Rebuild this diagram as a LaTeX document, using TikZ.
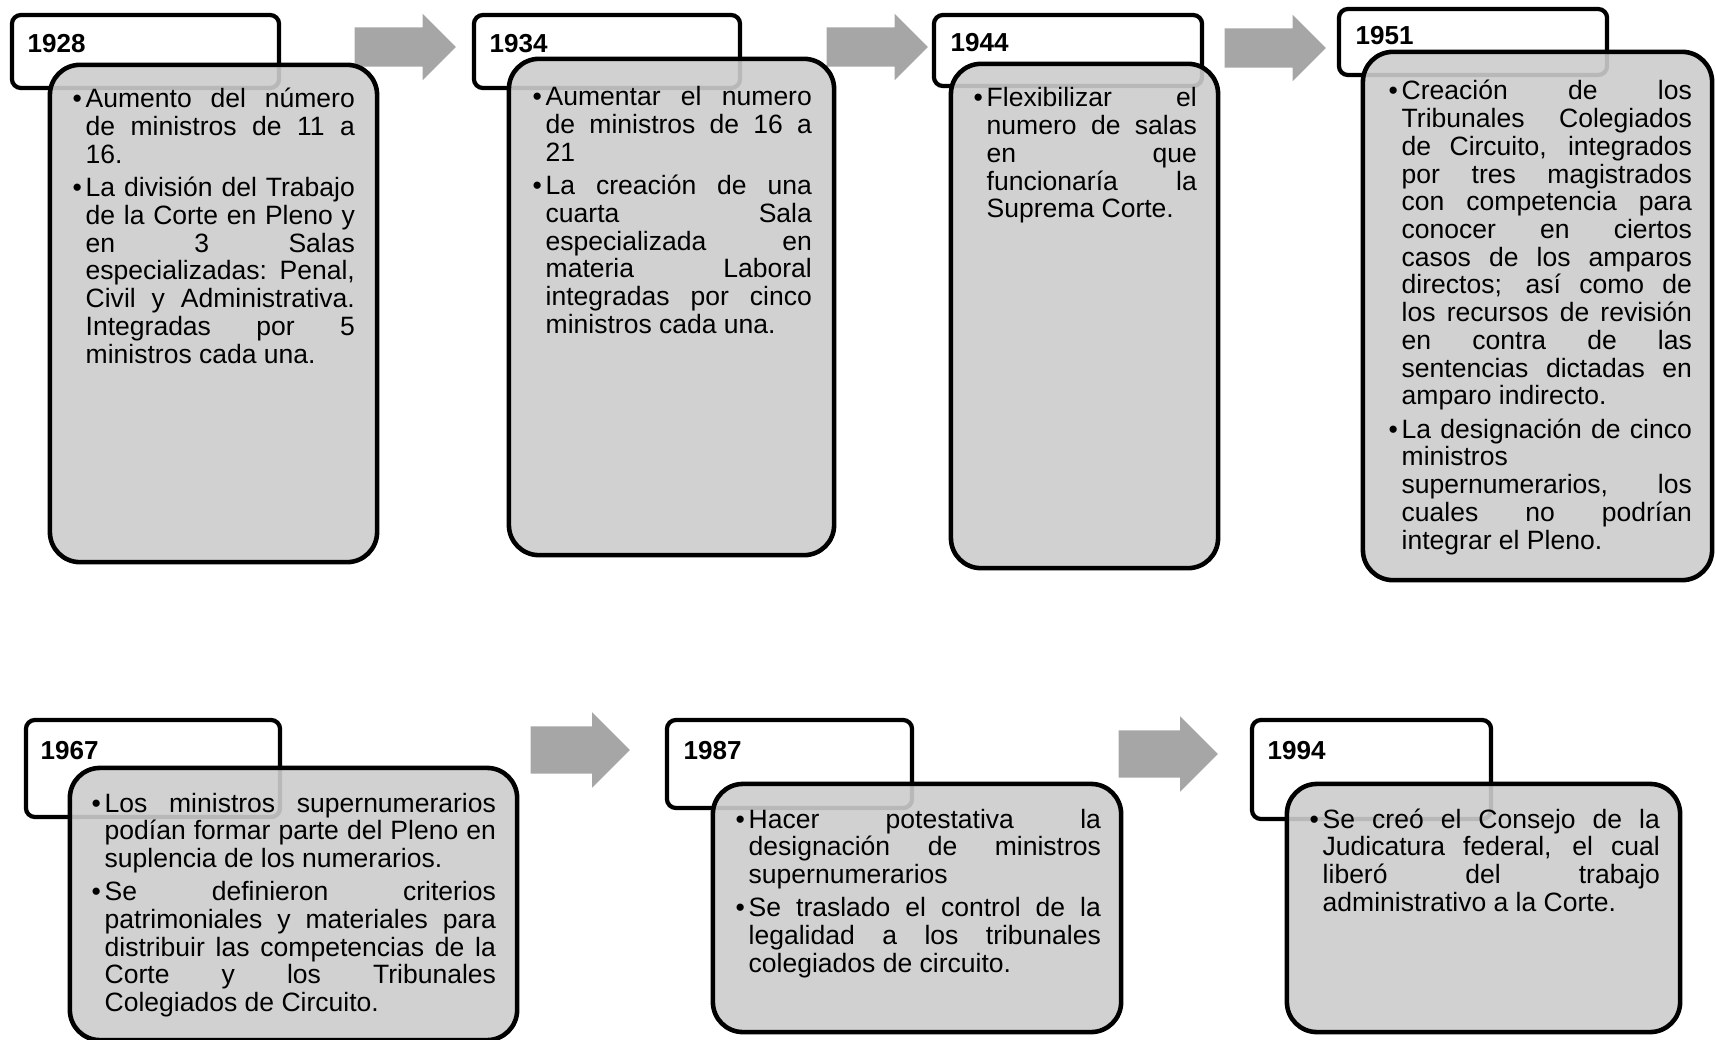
\documentclass[tikz,border=0pt]{standalone}
\usepackage{fontspec}
\setmainfont{Liberation Sans}
\usepackage{tikz}
\usetikzlibrary{shapes.arrows}
\definecolor{boxgray}{RGB}{204,204,204}
\definecolor{arrowgray}{RGB}{166,166,166}
\newcommand{\bitem}[1]{\noindent\hangindent=0.13cm\hangafter=1\hbox to 0.13cm{\textbullet\hfil}#1\par}
\tikzset{
  yearbox/.style={draw, line width=1.2pt, rounded corners=0.09cm, fill=white, inner sep=0pt},
  infobox/.style={draw, line width=1.3pt, rounded corners=0.3cm, fill=boxgray, fill opacity=0.9, draw opacity=1, inner sep=0pt},
  yearlabel/.style={anchor=base west, inner sep=0pt, font=\fontsize{7.4pt}{8pt}\selectfont\bfseries},
  infotext/.style={anchor=base west, inner sep=0pt, align=justify, font=\fontsize{7.54pt}{7.88pt}\selectfont,
    execute at begin node={\parskip=1.6pt\tolerance=10000\hyphenpenalty=10000\hbadness=10000}},
  shiftarrow/.style={single arrow, fill=arrowgray, draw=none, anchor=tail, inner xsep=0pt, inner ysep=0.19cm,
    single arrow head extend=0.135cm, minimum height=1.01cm},
  bigarrow/.style={shiftarrow, inner ysep=0.23cm, single arrow head extend=0.14cm, minimum height=0.99cm}
}
\begin{document}
\begin{tikzpicture}[x=0.01cm, y=-0.01cm]
	\useasboundingbox (0,0) rectangle (1716,1040);
	\node[shiftarrow] (a1) at (354,47) {};
	\node[shiftarrow] (a2) at (826,47) {};
	\node[shiftarrow] (a3) at (1224,48) {};
	\node[bigarrow] (a4) at (530,750) {};
	\node[bigarrow] (a5) at (1118,754) {};
	\node[yearbox, minimum width=2.67cm, minimum height=0.73cm] (y1928) at (145.5,51.5) {};
	\node[yearbox, minimum width=2.66cm, minimum height=0.73cm] (y1934) at (607,51.5) {};
	\node[yearbox, minimum width=2.68cm, minimum height=0.71cm] (y1944) at (1068,50.5) {};
	\node[yearbox, minimum width=2.68cm, minimum height=0.66cm] (y1951) at (1473,42) {};
	\node[yearbox, minimum width=2.54cm, minimum height=0.97cm] (y1967) at (153,768.5) {};
	\node[yearbox, minimum width=2.45cm, minimum height=0.88cm] (y1987) at (789.5,764) {};
	\node[yearbox, minimum width=2.39cm, minimum height=0.99cm] (y1994) at (1371.5,769.5) {};
	\node[infobox, minimum width=3.27cm, minimum height=4.97cm] (b1928) at (213.5,313.5) {};
	\node[infobox, minimum width=3.25cm, minimum height=4.96cm] (b1934) at (671.5,307) {};
	\node[infobox, minimum width=2.67cm, minimum height=5.04cm] (b1944) at (1084.5,316) {};
	\node[infobox, minimum width=3.49cm, minimum height=5.28cm] (b1951) at (1537.5,316) {};
	\node[infobox, minimum width=4.47cm, minimum height=2.72cm] (b1967) at (293.5,904) {};
	\node[infobox, minimum width=4.08cm, minimum height=2.48cm] (b1987) at (917,908) {};
	\node[infobox, minimum width=3.93cm, minimum height=2.48cm] (b1994) at (1483.5,908) {};
	\node[yearlabel] (l1928) at (27,53) {1928};
	\node[yearlabel] (l1934) at (489,53) {1934};
	\node[yearlabel] (l1944) at (950,52) {1944};
	\node[yearlabel] (l1951) at (1355,45) {1951};
	\node[yearlabel] (l1967) at (40,759) {1967};
	\node[yearlabel] (l1987) at (683,759) {1987};
	\node[yearlabel] (l1994) at (1267,759) {1994};
	\node[infotext, text width=2.82cm] (t1928) at (72,108) {%
		\bitem{Aumento del número \linebreak de ministros de 11 a \linebreak 16.}%
		\bitem{La división del Trabajo \linebreak de la Corte en Pleno y \linebreak en 3 Salas \linebreak especializadas: Penal, \linebreak Civil y Administrativa. \linebreak Integradas por 5 \linebreak ministros cada una.}};
	\node[infotext, text width=2.79cm] (t1934) at (532,106) {%
		\bitem{Aumentar el numero \linebreak de ministros de 16 a \linebreak 21}%
		\bitem{La creación de una \linebreak cuarta Sala \linebreak especializada en \linebreak materia Laboral \linebreak integradas por cinco \linebreak ministros cada una.}};
	\node[infotext, text width=2.23cm] (t1944) at (973,107) {%
		\bitem{Flexibilizar el \linebreak numero de salas \linebreak en que \linebreak funcionaría la \linebreak Suprema Corte.}};
	\node[infotext, text width=3.03cm] (t1951) at (1388,100) {%
		\bitem{Creación de los \linebreak Tribunales Colegiados \linebreak de Circuito, integrados \linebreak por tres magistrados \linebreak con competencia para \linebreak conocer en ciertos \linebreak casos de los amparos \linebreak directos; así como de \linebreak los recursos de revisión \linebreak en contra de las \linebreak sentencias dictadas en \linebreak amparo indirecto.}%
		\bitem{La designación de cinco \linebreak ministros \linebreak supernumerarios, los \linebreak cuales no podrían \linebreak integrar el Pleno.}};
	\node[infotext, text width=4.04cm] (t1967) at (91,812) {%
		\bitem{Los ministros supernumerarios \linebreak podían formar parte del Pleno en \linebreak suplencia de los numerarios.}%
		\bitem{Se definieron criterios \linebreak patrimoniales y materiales para \linebreak distribuir las competencias de la \linebreak Corte y los Tribunales \linebreak Colegiados de Circuito.}};
	\node[infotext, text width=3.65cm] (t1987) at (735,828) {%
		\bitem{Hacer potestativa la \linebreak designación de ministros \linebreak supernumerarios}%
		\bitem{Se traslado el control de la \linebreak legalidad a los tribunales \linebreak colegiados de circuito.}};
	\node[infotext, text width=3.50cm] (t1994) at (1309,828) {%
		\bitem{Se creó el Consejo de la \linebreak Judicatura federal, el cual \linebreak liberó del trabajo \linebreak administrativo a la Corte.}};
\end{tikzpicture}
\end{document}
